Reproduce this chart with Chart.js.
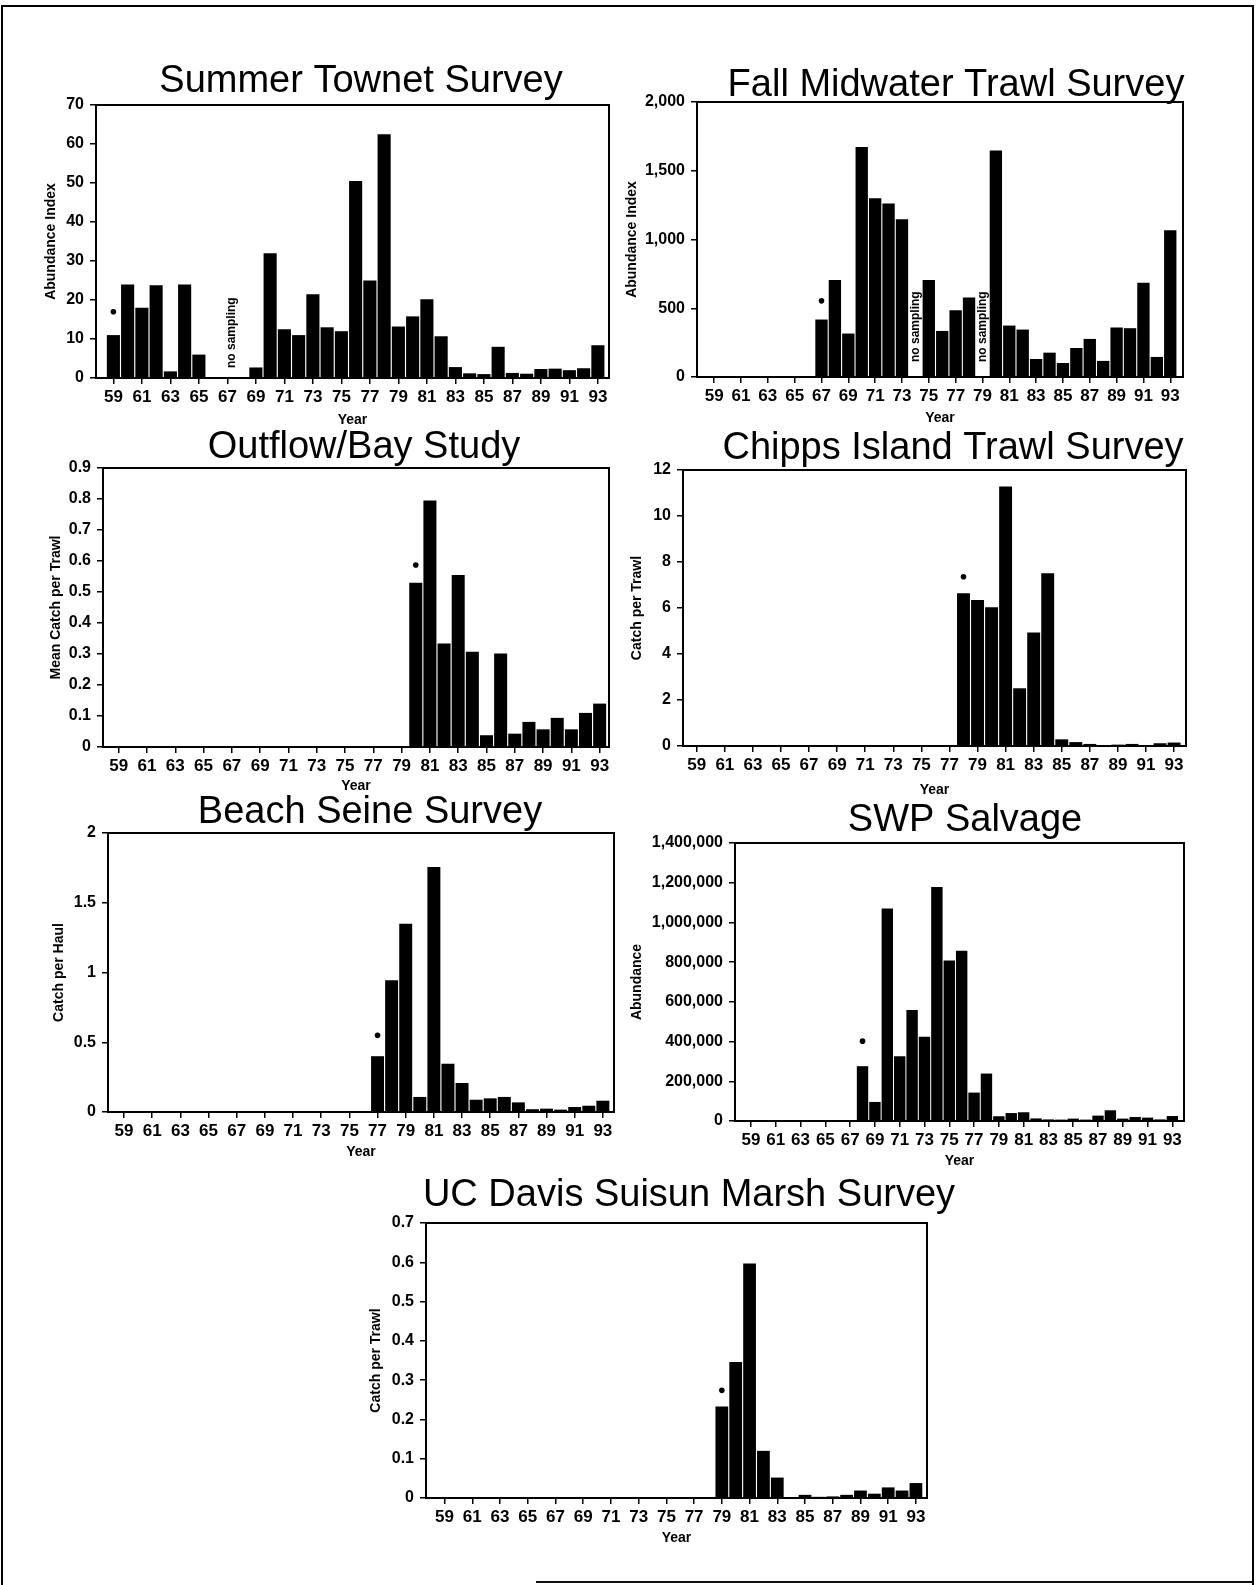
<!DOCTYPE html>
<html>
<head>
<meta charset="utf-8">
<title>Survey abundance indices</title>
<script src="https://cdn.jsdelivr.net/npm/chart.js@4.4.1/dist/chart.umd.min.js"></script>
<style>
  body { margin: 0; background: #fff; }
  #page { position: relative; width: 1257px; height: 1585px; overflow: hidden; background: #fff; }
  .frame { position: absolute; left: 1px; top: 5px; width: 1249px; height: 1620px;
           border-left: 2px solid #000; border-top: 2px solid #000; border-right: 2px solid #000; }
  .foot { position: absolute; left: 536px; top: 1581px; width: 716px; height: 2px; background: #111; }
  .box { position: absolute; }
</style>
</head>
<body>
<div id="page">
  <div class="frame"></div>
  <div class="foot"></div>
</div>
<script>
// years 1959-1993, labelled every other year
const years = [59, 60, 61, 62, 63, 64, 65, 66, 67, 68, 69, 70, 71, 72, 73, 74, 75, 76,
  77, 78, 79, 80, 81, 82, 83, 84, 85, 86, 87, 88, 89, 90, 91, 92, 93];
const tickYears = [59, 61, 63, 65, 67, 69, 71, 73, 75, 77, 79, 81, 83, 85, 87, 89, 91, 93];

// Summer Townet Survey - abundance index (67 = no sampling)
const townet = [11, 24, 18, 23.8, 1.7, 24, 6, 0.2, null, 0.2, 2.7, 32, 12.5, 11, 21.5, 13,
  12, 50.5, 25, 62.5, 13.2, 15.8, 20.2, 10.7, 2.8, 1.2, 1, 8, 1.3, 1.1, 2.3, 2.4, 2, 2.5, 8.4];
const townetDot = [17];

// Fall Midwater Trawl Survey - abundance index (74, 79 = no sampling)
const fmwt = [null, null, null, null, null, null, null, null, 418, 705, 316, 1672, 1300, 1261,
  1147, null, 705, 335, 486, 578, null, 1648, 374, 345, 131, 177, 102, 211, 277, 117, 360,
  355, 685, 146, 1067];
const fmwtDot = [554];

// Outflow/Bay Study - mean catch per trawl
const bayStudy = [null, null, null, null, null, null, null, null, null, null, null, null, null,
  null, null, null, null, null, null, null, null, 0.53, 0.795, 0.334, 0.555, 0.307, 0.038,
  0.302, 0.043, 0.081, 0.057, 0.094, 0.057, 0.11, 0.14];
const bayDot = [0.587];

// Chipps Island Trawl Survey - catch per trawl
const chipps = [null, null, null, null, null, null, null, null, null, null, null, null, null,
  null, null, null, null, null, null, 6.64, 6.35, 6.03, 11.28, 2.51, 4.94, 7.51, 0.29, 0.17,
  0.09, 0.03, 0.06, 0.09, 0.03, 0.12, 0.15];
const chippsDot = [7.36];

// Beach Seine Survey - catch per haul
const seine = [null, null, null, null, null, null, null, null, null, null, null, null, null,
  null, null, null, null, null, 0.40, 0.944, 1.35, 0.108, 1.756, 0.346, 0.208, 0.088, 0.098,
  0.108, 0.069, 0.02, 0.024, 0.017, 0.036, 0.045, 0.081];
const seineDot = [0.55];

// SWP Salvage - abundance
const swp = [null, null, null, null, null, null, null, null, null, 276000, 96000, 1070000,
  326000, 559000, 424000, 1178000, 808000, 858000, 143000, 239000, 24000, 40000, 44000,
  13000, 8000, 7000, 12000, 7000, 27000, 54000, 12000, 20000, 17000, 8000, 25000];
const swpDot = [402000];

// UC Davis Suisun Marsh Survey - catch per trawl
const suisun = [null, null, null, null, null, null, null, null, null, null, null, null, null,
  null, null, null, null, null, null, null, 0.233, 0.346, 0.597, 0.12, 0.052, 0.002, 0.008,
  0.003, 0.004, 0.008, 0.019, 0.011, 0.027, 0.019, 0.038];
const suisunDot = [0.274];

// put the dot (first year of record) above the first bar
function dotSeries(values, dot) {
  const first = values.findIndex(v => v !== null);
  return years.map((y, i) => (i === first ? dot[0] : null));
}

const ML = 110, MT = 60, MR = 45, MB = 55;

const charts = [
  { title: 'Summer Townet Survey', yTitle: 'Abundance Index', data: townet, dot: townetDot,
    noSampling: [67.3], nsLift: 10, yMax: 70, yStep: 10, xMin: 57.78, xMax: 93.78,
    box: { l: 96, r: 609, t: 105, b: 378 }, titleX: 361, titleY: 92, yTitleX: 51, yearY: 420 },
  { title: 'Fall Midwater Trawl Survey', yTitle: 'Abundance Index', data: fmwt, dot: fmwtDot,
    noSampling: [74, 79], nsLift: 15, yMax: 2000, yStep: 500, xMin: 57.72, xMax: 93.95,
    box: { l: 697, r: 1183, t: 102, b: 377 }, titleX: 956, titleY: 96, yTitleX: 632, yearY: 418 },
  { title: 'Outflow/Bay Study', yTitle: 'Mean Catch per Trawl', data: bayStudy, dot: bayDot,
    noSampling: [], yMax: 0.9, yStep: 0.1, xMin: 57.89, xMax: 93.66,
    box: { l: 103, r: 609, t: 468, b: 747 }, titleX: 364, titleY: 458, yTitleX: 56, yearY: 786 },
  { title: 'Chipps Island Trawl Survey', yTitle: 'Catch per Trawl', data: chipps, dot: chippsDot,
    noSampling: [], yMax: 12, yStep: 2, xMin: 58.02, xMax: 93.85,
    box: { l: 683, r: 1186, t: 470, b: 746 }, titleX: 953, titleY: 459, yTitleX: 637, yearY: 790 },
  { title: 'Beach Seine Survey', yTitle: 'Catch per Haul', data: seine, dot: seineDot,
    noSampling: [], yMax: 2, yStep: 0.5, xMin: 57.86, xMax: 93.79,
    box: { l: 108, r: 614, t: 833, b: 1112 }, titleX: 370, titleY: 823, yTitleX: 59, yearY: 1152 },
  { title: 'SWP Salvage', yTitle: 'Abundance', data: swp, dot: swpDot,
    noSampling: [], yMax: 1400000, yStep: 200000, xMin: 57.71, xMax: 93.94,
    box: { l: 735, r: 1184, t: 843, b: 1121 }, titleX: 965, titleY: 831, yTitleX: 637, yearY: 1161 },
  { title: 'UC Davis Suisun Marsh Survey', yTitle: 'Catch per Trawl', data: suisun, dot: suisunDot,
    noSampling: [], yMax: 0.7, yStep: 0.1, xMin: 57.66, xMax: 93.8,
    box: { l: 426, r: 927, t: 1223, b: 1498 }, titleX: 689, titleY: 1206, yTitleX: 376, yearY: 1538 }
];

// frame around the plot, big title, "no sampling" notes
const decorPlugin = {
  id: 'decor',
  afterDraw(chart, args, opts) {
    const { ctx, chartArea } = chart;
    const c = opts.cfg;
    ctx.save();
    ctx.strokeStyle = '#000';
    ctx.lineWidth = 2;
    ctx.strokeRect(chartArea.left, chartArea.top, chartArea.right - chartArea.left, chartArea.bottom - chartArea.top);
    ctx.fillStyle = '#000';
    ctx.font = '38px "Liberation Sans", Arial, sans-serif';
    ctx.textAlign = 'center';
    ctx.textBaseline = 'alphabetic';
    ctx.fillText(c.title, c.titleX - opts.originX, c.titleY - opts.originY);
    const xs = chart.scales.x;
    c.noSampling.forEach(yr => {
      ctx.save();
      ctx.translate(xs.getPixelForValue(yr), chartArea.bottom - c.nsLift);
      ctx.rotate(-Math.PI / 2);
      ctx.font = 'bold 12px "Liberation Sans", Arial, sans-serif';
      ctx.textAlign = 'left';
      ctx.textBaseline = 'middle';
      ctx.fillText('no sampling', 0, 0);
      ctx.restore();
    });
    ctx.restore();
  }
};

const page = document.getElementById('page');

charts.forEach(c => {
  const originX = c.box.l - ML;
  const originY = c.box.t - MT;
  const w = (c.box.r - c.box.l) + ML + MR;
  const h = (c.box.b - c.box.t) + MT + MB;
  const div = document.createElement('div');
  div.className = 'box';
  div.style.left = originX + 'px';
  div.style.top = originY + 'px';
  div.style.width = w + 'px';
  div.style.height = h + 'px';
  const canvas = document.createElement('canvas');
  canvas.width = w;
  canvas.height = h;
  canvas.style.width = w + 'px';
  canvas.style.height = h + 'px';
  div.appendChild(canvas);
  page.appendChild(div);

  const yTitleFont = 14;
  const yearFont = 14;

  new Chart(canvas, {
    type: 'bar',
    data: {
      labels: years,
      datasets: [
        {
          type: 'line',
          data: dotSeries(c.data, c.dot),
          showLine: false,
          pointRadius: 2.8,
          pointBackgroundColor: '#000',
          pointBorderWidth: 0
        },
        {
          data: c.data,
          backgroundColor: '#000',
          borderWidth: 0,
          barPercentage: 0.92,
          categoryPercentage: 1
        }
      ]
    },
    options: {
      responsive: false,
      animation: false,
      devicePixelRatio: 1,
      layout: { padding: { left: 0, top: MT, right: MR, bottom: 0 } },
      plugins: {
        legend: { display: false },
        tooltip: { enabled: false },
        decor: { cfg: c, originX: originX, originY: originY }
      },
      scales: {
        x: {
          type: 'linear',
          min: c.xMin,
          max: c.xMax,
          offset: false,
          border: { display: false },
          grid: { display: true, offset: false, drawOnChartArea: false, drawTicks: true, tickLength: 6, color: '#000', lineWidth: 1.5 },
          afterBuildTicks: scale => { scale.ticks = tickYears.map(v => ({ value: v })); },
          afterFit: scale => { scale.height = MB; },
          ticks: {
            autoSkip: false,
            maxRotation: 0,
            padding: 3,
            color: '#000',
            font: { family: '"Liberation Sans Narrow", "Liberation Sans", Arial, sans-serif', size: 17, weight: 'bold' },
            callback: v => String(v)
          },
          title: {
            display: true,
            text: 'Year',
            color: '#000',
            font: { family: '"Liberation Sans", Arial, sans-serif', size: yearFont, weight: 'bold' },
            padding: { top: 0, bottom: (MB - (c.yearY - c.box.b)) - yearFont * 0.6 }
          }
        },
        y: {
          min: 0,
          max: c.yMax,
          border: { display: false },
          grid: { display: true, drawOnChartArea: false, drawTicks: true, tickLength: 6, color: '#000', lineWidth: 1.5 },
          afterFit: scale => { scale.width = ML; },
          ticks: {
            stepSize: c.yStep,
            padding: 6,
            color: '#000',
            font: { family: '"Liberation Sans", Arial, sans-serif', size: 16, weight: 'bold' },
            callback: v => Number(v.toFixed(4)).toLocaleString('en-US')
          },
          title: {
            display: true,
            text: c.yTitle,
            color: '#000',
            font: { family: '"Liberation Sans", Arial, sans-serif', size: yTitleFont, weight: 'bold' },
            padding: { top: (c.yTitleX - originX) - yTitleFont * 0.6, bottom: 0 }
          }
        }
      }
    },
    plugins: [decorPlugin]
  });
});
</script>
</body>
</html>
